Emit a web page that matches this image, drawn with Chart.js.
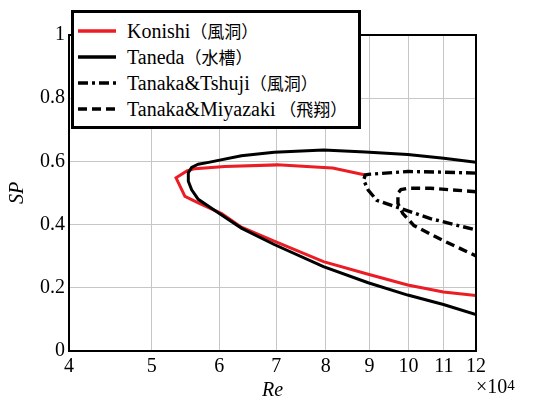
<!DOCTYPE html>
<html><head><meta charset="utf-8">
<script src="https://cdn.jsdelivr.net/npm/chart.js@4"></script>
<style>
html,body{margin:0;padding:0;background:#fff;}
#wrap{position:relative;width:534px;height:400px;overflow:hidden;}
#c{position:absolute;left:0;top:0;}
#legend{position:absolute;left:71px;top:10px;width:290px;height:119px;border:3px solid #000;background:#fff;box-sizing:border-box;font-family:"Liberation Serif","Tinos","DejaVu Serif","Noto Serif",serif;font-size:20px;color:#000;}
.row{position:absolute;left:0;height:26px;width:100%;}
.row svg{position:absolute;left:4px;top:8px;}
.row .t{position:absolute;left:53px;top:0;line-height:26px;white-space:nowrap;}
.cjk{font-family:"Noto Sans CJK JP",sans-serif;font-size:17px;}
#mult{position:absolute;left:476px;top:375px;font-family:"Liberation Serif","Tinos","DejaVu Serif","Noto Serif",serif;font-size:20px;line-height:22px;color:#000;white-space:nowrap;}
#mult sup{font-size:15px;position:relative;top:-3px;vertical-align:baseline;}
</style></head>
<body><div id="wrap"><canvas id="c" width="534" height="400"></canvas><div id="legend"></div><div id="mult">×10<sup>4</sup></div></div>
<script>
// Tick values
const xTicks = [4, 5, 6, 7, 8, 9, 10, 11, 12];      // Re (×10^4)
const yTicks = [0, 0.2, 0.4, 0.6, 0.8, 1];           // SP

// Series names
const seriesNames = ['Konishi', 'Taneda', 'Tanaka&Tshuji', 'Tanaka&Miyazaki'];
const seriesFacility = ['（風洞）', '（水槽）', '（風洞）', ' （飛翔）'];

// Konishi (wind tunnel)
const konishiRe = [8.90, 8.15, 7.95, 7.02, 6.09, 5.62, 5.50, 5.34, 5.47, 5.67, 6.04, 6.37, 6.96, 7.95, 8.97, 9.98, 10.99, 12.0];
const konishiSP = [0.557, 0.579, 0.581, 0.589, 0.584, 0.577, 0.570, 0.548, 0.489, 0.469, 0.435, 0.392, 0.348, 0.283, 0.243, 0.209, 0.187, 0.176];

// Taneda (water tank)
const tanedaRe = [12.0, 11.0, 9.98, 8.90, 7.95, 6.96, 6.37, 5.83, 5.67, 5.57, 5.52, 5.52, 5.57, 5.67, 5.93, 6.37, 6.96, 7.95, 8.97, 9.98, 10.99, 12.0];
const tanedaSP = [0.597, 0.610, 0.622, 0.630, 0.636, 0.629, 0.618, 0.597, 0.591, 0.581, 0.564, 0.537, 0.510, 0.480, 0.445, 0.389, 0.337, 0.267, 0.216, 0.177, 0.147, 0.115];

// Tanaka & Tshuji (wind tunnel)
const tshujiRe = [12.0, 11.0, 9.98, 8.97, 8.90, 8.86, 8.97, 9.18, 9.80, 10.61, 12.0];
const tshujiSP = [0.563, 0.566, 0.568, 0.559, 0.557, 0.541, 0.509, 0.477, 0.451, 0.419, 0.383];

// Tanaka & Miyazaki (flight)
const miyazakiRe = [12.0, 10.61, 9.98, 9.80, 9.72, 9.72, 9.85, 10.15, 10.99, 12.0];
const miyazakiSP = [0.504, 0.515, 0.515, 0.511, 0.499, 0.467, 0.435, 0.397, 0.349, 0.301];

const seriesRe = [konishiRe, tanedaRe, tshujiRe, miyazakiRe];
const seriesSP = [konishiSP, tanedaSP, tshujiSP, miyazakiSP];
const styles = [
  {color: '#ec1c24', dash: [], width: 3},
  {color: '#000000', dash: [], width: 3},
  {color: '#000000', dash: [10, 4, 3, 4], width: 3.4},
  {color: '#000000', dash: [9, 5], width: 3.4}
];

const datasets = seriesNames.map((n, i) => ({
  label: n + seriesFacility[i],
  data: seriesRe[i].map((x, k) => ({x: x, y: seriesSP[i][k]})),
  showLine: true,
  borderColor: styles[i].color,
  backgroundColor: styles[i].color,
  borderWidth: styles[i].width,
  borderDash: styles[i].dash,
  pointRadius: 0,
  tension: 0,
  fill: false,
  order: 4 - i
}));

const serif = "'Liberation Serif', Tinos, 'DejaVu Serif', 'Noto Serif', serif";

const framePlugin = {
  id: 'frame',
  afterDatasetsDraw(chart) {
    const a = chart.chartArea, ctx = chart.ctx;
    ctx.save();
    ctx.strokeStyle = '#000';
    ctx.lineWidth = 2;
    ctx.strokeRect(a.left, a.top, a.right - a.left, a.bottom - a.top);
    ctx.restore();
  }
};

const chart = new Chart(document.getElementById('c'), {
  type: 'scatter',
  data: {datasets: datasets},
  options: {
    responsive: false,
    animation: false,
    layout: {padding: {left: 0, right: 58, top: 35, bottom: 0}},
    plugins: {legend: {display: false}, tooltip: {enabled: false}},
    scales: {
      x: {
        type: 'logarithmic', min: 4, max: 12,
        afterBuildTicks: s => { s.ticks = xTicks.map(v => ({value: v})); },
        afterFit: s => { s.height = 49; },
        ticks: {callback: v => String(v), color: '#000', font: {family: serif, size: 20}, padding: 4, maxRotation: 0, autoSkip: false},
        grid: {color: '#c6c6c6', lineWidth: 1, drawTicks: false},
        border: {color: '#000', width: 2},
        title: {display: true, text: 'Re', color: '#000', font: {family: serif, size: 20, style: 'italic'}, padding: {top: 0, bottom: -3}}
      },
      y: {
        type: 'linear', min: 0, max: 1,
        afterBuildTicks: s => { s.ticks = yTicks.map(v => ({value: v})); },
        afterFit: s => { s.width = 69; },
        ticks: {callback: v => String(v), color: '#000', font: {family: serif, size: 20}, padding: 4},
        grid: {color: '#c6c6c6', lineWidth: 1, drawTicks: false},
        border: {color: '#000', width: 2},
        title: {display: true, text: 'SP', color: '#000', font: {family: serif, size: 20, style: 'italic'}, padding: {top: 6, bottom: 0}}
      }
    }
  },
  plugins: [framePlugin]
});

// HTML legend built from the chart's datasets
const leg = document.getElementById('legend');
chart.data.datasets.forEach((ds, i) => {
  const row = document.createElement('div');
  row.className = 'row';
  row.style.top = (5 + i * 26) + 'px';
  const dash = (ds.borderDash || []).join(' ');
  row.innerHTML = '<svg width="40" height="10"><line x1="0" y1="5" x2="38" y2="5" stroke="' + ds.borderColor +
    '" stroke-width="3.5" ' + (dash ? 'stroke-dasharray="' + dash + '"' : '') + '/></svg>' +
    '<span class="t">' + seriesNames[i].replace('&', '&amp;') + '<span class="cjk">' + seriesFacility[i] + '</span></span>';
  leg.appendChild(row);
});
</script>
</body></html>
